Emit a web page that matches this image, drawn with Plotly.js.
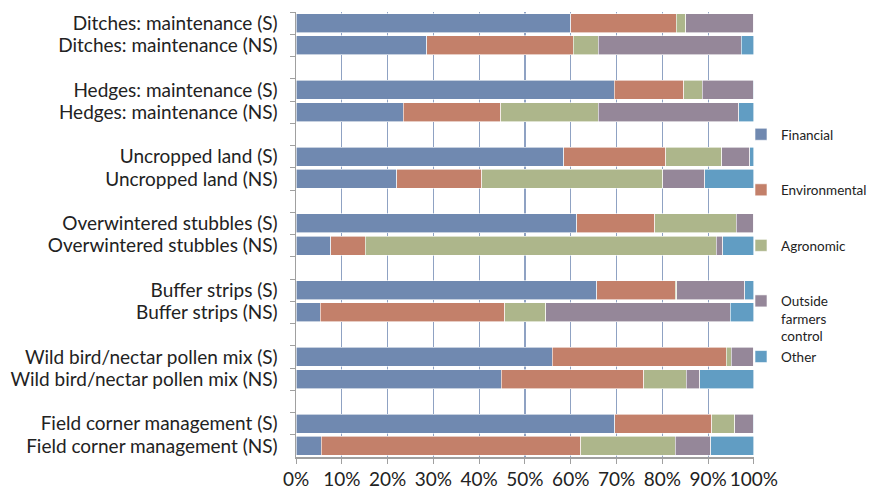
<!DOCTYPE html>
<html>
<head>
<meta charset="utf-8">
<script src="https://cdn.plot.ly/plotly-3.0.1.min.js"></script>
<style>html,body{margin:0;padding:0;background:#fff;}#chart{width:875px;height:492px;}</style>
</head>
<body>
<div id="chart"></div>
<script>
// Categories (top to bottom); blank entries are spacer rows between groups
const categories = [
  "Ditches: maintenance (S)", "Ditches: maintenance (NS)", " ",
  "Hedges: maintenance (S)", "Hedges: maintenance (NS)", "  ",
  "Uncropped land (S)", "Uncropped land (NS)", "   ",
  "Overwintered stubbles (S)", "Overwintered stubbles (NS)", "    ",
  "Buffer strips (S)", "Buffer strips (NS)", "     ",
  "Wild bird/nectar pollen mix (S)", "Wild bird/nectar pollen mix (NS)", "      ",
  "Field corner management (S)", "Field corner management (NS)"
];
const financial     = [60.0, 28.5, null, 69.5, 23.4, null, 58.5, 22.0, null, 61.3,  7.6, null, 65.7,  5.3, null, 56.0, 44.8, null, 69.6,  5.5];
const environmental = [23.0, 32.0, null, 15.2, 21.3, null, 22.2, 18.6, null, 17.0,  7.5, null, 17.1, 40.3, null, 38.0, 31.1, null, 21.2, 56.7];
const agronomic     = [ 2.1,  5.5, null,  4.0, 21.3, null, 12.3, 39.5, null, 17.8, 76.7, null,  0.3,  8.9, null,  1.1,  9.3, null,  5.0, 20.6];
const outside       = [14.9, 31.2, null, 11.1, 30.7, null,  6.1,  9.2, null,  3.9,  1.4, null, 14.9, 40.3, null,  4.9,  3.0, null,  4.0,  7.8];
const other         = [ 0.0,  2.8, null,  0.2,  3.3, null,  0.9, 10.7, null,  0.0,  6.8, null,  2.0,  5.2, null,  0.0, 11.8, null,  0.2,  9.4];
const xTickVals = [0,10,20,30,40,50,60,70,80,90,100];
const xTickText = ["0%","10%","20%","30%","40%","50%","60%","70%","80%","90%","100%"];

const series = [
  {name: "Financial", values: financial, color: "#7089b0", group: "g1"},
  {name: "Environmental", values: environmental, color: "#c3806a", group: "g2"},
  {name: "Agronomic", values: agronomic, color: "#adb68b", group: "g3"},
  {name: "Outside<br>farmers<br>control", values: outside, color: "#958799", group: "g4"},
  {name: "Other", values: other, color: "#619dc3", group: "g4"}
];

const traces = series.map(s => ({
  type: "bar",
  orientation: "h",
  y: categories,
  x: s.values,
  name: s.name,
  legendgroup: s.group,
  marker: {color: s.color, line: {color: "#ffffff", width: 0.6}},
  hoverinfo: "x+y+name"
}));

const FONT = "Lato, 'Open Sans', sans-serif";
const layout = {
  width: 875, height: 492,
  margin: {l: 296, r: 3, t: 12, b: 35},
  barmode: "stack",
  bargap: 0.14,
  paper_bgcolor: "#ffffff",
  plot_bgcolor: "#ffffff",
  font: {family: FONT, color: "#222222"},
  xaxis: {
    domain: [0, 0.795],
    range: [0, 100],
    tickmode: "array", tickvals: xTickVals, ticktext: xTickText,
    tickangle: 0,
    showgrid: true, gridcolor: "#8fa2c3", gridwidth: 1.2,
    showline: true, linecolor: "#a0a0a0", linewidth: 1.5,
    ticks: "outside", ticklen: 5, tickcolor: "#a0a0a0",
    tickfont: {size: 19, family: FONT, color: "#222"},
    zeroline: false, fixedrange: true, automargin: false
  },
  yaxis: {
    type: "category",
    categoryorder: "array", categoryarray: categories,
    autorange: "reversed",
    tickmode: "linear", tick0: 0, dtick: 1,
    tickangle: 0,
    tickson: "boundaries",
    ticks: "outside", ticklen: 5, tickcolor: "#a0a0a0",
    showline: true, linecolor: "#a0a0a0", linewidth: 1.5,
    showgrid: false,
    tickfont: {size: 19, family: FONT, color: "#222"},
    ticklabelstandoff: 13,
    fixedrange: true, automargin: false
  },
  showlegend: true,
  legend: {
    x: 1, xanchor: "right",
    y: 0.7596, yanchor: "top",
    traceorder: "grouped",
    tracegroupgap: 35,
    valign: "top",
    maxheight: 400,
    font: {size: 13.5, family: FONT, color: "#222"},
    itemwidth: 30,
    bgcolor: "rgba(0,0,0,0)"
  }
};

Plotly.newPlot("chart", traces, layout, {displayModeBar: false, staticPlot: true});
</script>
</body>
</html>
